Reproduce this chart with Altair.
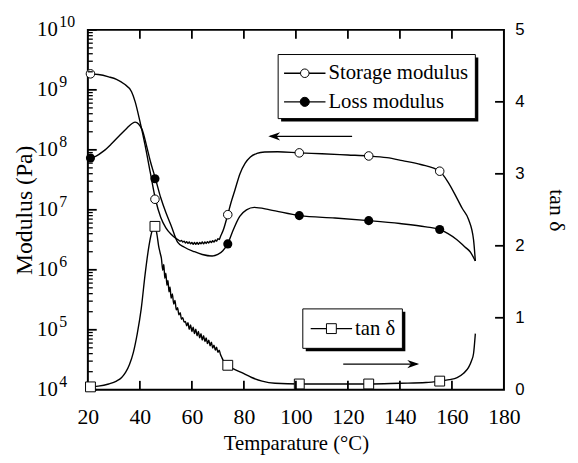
import altair as alt
import pandas as pd

# ---------------- data ----------------
storage_x = [20, 24, 28, 31, 34, 36.8, 38.2, 40, 42, 44, 46, 48, 50, 52, 54,
             55, 55.5, 56, 56.5, 57, 57.5, 58, 58.5, 59, 59.5, 60, 60.5, 61, 61.5,
             62, 62.5, 63, 63.5, 64, 64.5, 65, 65.5, 66, 66.5, 67, 67.5, 68, 68.5,
             69, 69.5, 70, 70.5, 71, 72, 73.8, 75, 76.5, 78.5, 80.5, 82.5, 85, 88,
             93, 101.3, 110, 120, 128, 135, 141, 148, 155.3, 158.5, 161.8, 164,
             166.4, 168.3, 169]
storage_y = [1.85e9, 1.8e9, 1.65e9, 1.5e9, 1.25e9, 9.3e8, 6.3e8, 3.0e8, 1.2e8, 4.2e7,
             1.5e7, 7.5e6, 5.0e6, 3.9e6, 3.3e6,
             3.1e6, 3.0e6, 3.1e6, 2.9e6, 3.0e6, 2.8e6, 2.95e6, 2.75e6, 2.9e6, 2.7e6,
             2.85e6, 2.65e6, 2.85e6, 2.65e6, 2.85e6, 2.65e6, 2.85e6, 2.7e6, 2.9e6,
             2.7e6, 2.9e6, 2.75e6, 2.95e6, 2.8e6, 3.0e6, 2.85e6, 3.05e6, 2.9e6,
             3.15e6, 3.0e6, 3.3e6, 3.2e6, 3.6e6, 4.5e6, 8.3e6, 1.3e7, 2.1e7, 4.0e7,
             6.0e7, 7.6e7, 8.7e7, 9.2e7, 9.3e7, 8.9e7, 8.6e7, 8.2e7, 7.9e7, 7.4e7,
             6.6e7, 5.7e7, 4.4e7, 2.9e7, 1.6e7, 1.05e7, 6.9e6, 3.2e6, 1.4e6]

loss_x = [20, 23, 26, 29, 32, 35, 37, 38.2, 39.5, 41, 42.5, 44, 46, 48, 50, 52,
          54.5, 57, 61, 64, 67.8, 70, 72, 73.8, 75.5, 78.4, 81, 84, 90, 101.5,
          115, 128, 140, 150, 155.3, 158.5, 161.8, 165, 167, 169]
loss_y = [7.3e7, 7.8e7, 9.5e7, 1.25e8, 1.7e8, 2.3e8, 2.75e8, 2.9e8, 2.7e8, 2.1e8,
          1.2e8, 6.5e7, 3.3e7, 1.6e7, 9.0e6, 5.5e6, 2.9e6, 2.4e6, 2.0e6, 1.8e6,
          1.7e6, 1.8e6, 2.1e6, 2.7e6, 4.2e6, 7.8e6, 1.0e7, 1.1e7, 1.0e7, 8.0e6,
          7.3e6, 6.6e6, 5.9e6, 5.2e6, 4.7e6, 4.0e6, 3.2e6, 2.4e6, 2.0e6, 1.4e6]

tan_x = [20, 24, 28, 31, 33, 34.5, 36, 37.5, 39, 40.5, 42, 43.5, 44.8, 45.8, 46.6,
         47.2, 47.8, 48.3, 48.8, 49.2, 49.6, 50.0, 50.4, 50.8, 51.2, 51.6, 52.0,
         52.5, 53.0, 53.5, 54.0, 54.5, 55.0, 55.5, 56.0, 56.5, 57.0, 57.5, 58.0,
         58.5, 59.0, 59.5, 60.0, 60.5, 61.0, 61.5, 62.0, 62.5, 63.0, 63.5, 64.0,
         64.5, 65.0, 65.5, 66.0, 66.5, 67.0, 67.5, 68.0, 68.5, 69.0, 69.5, 70.0,
         70.5, 71.0, 71.5, 72.0, 73.5, 76, 79, 83, 87, 92, 101.5, 115, 128, 140,
         150, 155.3, 159, 162, 164.5, 166.4, 167.5, 168.3, 169]
tan_y = [0.04, 0.05, 0.08, 0.12, 0.17, 0.24, 0.35, 0.52, 0.78, 1.12, 1.6, 2.0, 2.22,
         2.27, 2.15, 2.0, 1.9, 1.82, 1.66, 1.74, 1.55, 1.62, 1.45, 1.52, 1.36, 1.43,
         1.27, 1.33, 1.19, 1.24, 1.11, 1.14, 1.04, 1.07, 0.98, 1.0, 0.94, 0.95,
         0.89, 0.93, 0.84, 0.90, 0.81, 0.87, 0.78, 0.84, 0.75, 0.81, 0.72, 0.78,
         0.69, 0.75, 0.67, 0.72, 0.64, 0.69, 0.61, 0.66, 0.58, 0.62, 0.55, 0.59,
         0.52, 0.55, 0.49, 0.45, 0.41, 0.34, 0.29, 0.24, 0.17, 0.12, 0.09, 0.08,
         0.08, 0.08, 0.09, 0.10, 0.12, 0.14, 0.17, 0.23, 0.31, 0.40, 0.50, 0.78]

marker_x = [21, 45.8, 73.8, 101.3, 128, 155.3]
storage_marks = [1.85e9, 1.5e7, 8.3e6, 8.9e7, 7.9e7, 4.4e7]
loss_marks = [7.3e7, 3.3e7, 2.7e6, 8.0e6, 6.6e6, 4.7e6]
tan_marks = [0.04, 2.27, 0.34, 0.08, 0.08, 0.12]

x_ticks = [20, 40, 60, 80, 100, 120, 140, 160, 180]
x_inner_ticks = [40, 60, 80, 100, 120, 140, 160]
decades = [1e4, 1e5, 1e6, 1e7, 1e8, 1e9, 1e10]
exponents = ["4", "5", "6", "7", "8", "9", "10"]
minor_vals = [m * 10 ** k for k in range(4, 10) for m in range(2, 10)]
tan_ticks = [0, 1, 2, 3, 4, 5]
tan_inner_ticks = [1, 2, 3, 4]

legend_labels = ["Storage modulus", "Loss modulus", "tan δ"]

# ---------------- styling ----------------
W, H = 422, 365
SERIF = "Liberation Serif"
SANS = "Liberation Sans"

xs = alt.Scale(domain=[20, 180], nice=False, zero=False)
ylog = alt.Scale(type="log", domain=[1e4, 1e10], nice=False)
ytan = alt.Scale(domain=[0, 5], nice=False, zero=True)

storage_df = pd.DataFrame({"T": storage_x, "v": storage_y})
loss_df = pd.DataFrame({"T": loss_x, "v": loss_y})
tan_df = pd.DataFrame({"T": tan_x, "v": tan_y})
marks_df = pd.DataFrame({"T": marker_x, "s": storage_marks, "l": loss_marks, "t": tan_marks})
dec_df = pd.DataFrame({"v": decades, "e": exponents})
minor_df = pd.DataFrame({"v": minor_vals})
xt_df = pd.DataFrame({"T": x_inner_ticks})
tt_df = pd.DataFrame({"v": tan_inner_ticks})
one = pd.DataFrame({"k": [0]})

x_axis = alt.Axis(values=x_ticks, title="Temparature (°C)", orient="bottom", tickSize=0,
                  domain=False, grid=False, labelFont=SERIF, labelFontSize=22, labelPadding=17,
                  titleFont=SERIF, titleFontSize=21, titlePadding=6, labelFlush=False,
                  labelColor="black", titleColor="black", titleFontWeight="normal")
y_axis = alt.Axis(values=decades, labelExpr="'10'", title="Modulus (Pa)", orient="left",
                  tickSize=0, domain=False, grid=False, labelFont=SERIF, labelFontSize=21,
                  labelPadding=31, labelBaseline="middle", titleFont=SERIF,
                  titleFontSize=24, titlePadding=0, labelFlush=False,
                  labelColor="black", titleColor="black", titleFontWeight="normal")
t_axis = alt.Axis(values=tan_ticks, title="tan δ", orient="right", tickSize=0,
                  domain=False, grid=False, labelFont=SANS, labelFontSize=17,
                  labelPadding=11, labelBaseline="middle", titleFont=SERIF,
                  titleFontSize=22, titleAngle=90, titlePadding=21, labelFlush=False,
                  labelColor="black", titleColor="black", titleFontWeight="normal")

# identical x encoding on every layer that has an x field, so the axis merges into one
X = alt.X("T:Q", scale=xs, axis=x_axis)

LW = 1.4

storage_line = alt.Chart(storage_df).mark_line(color="black", strokeWidth=LW, interpolate="monotone").encode(
    x=X, y=alt.Y("v:Q", scale=ylog, axis=y_axis))
tan_line = alt.Chart(tan_df).mark_line(color="black", strokeWidth=LW, interpolate="monotone").encode(
    x=X, y=alt.Y("v:Q", scale=ytan, axis=t_axis))
loss_line = alt.Chart(loss_df).mark_line(color="black", strokeWidth=LW, interpolate="monotone").encode(
    x=X, y=alt.Y("v:Q", scale=ylog, axis=None))
storage_pts = alt.Chart(marks_df).mark_point(shape="circle", filled=True, fill="white", stroke="black",
                                             strokeWidth=1, size=75, opacity=1).encode(
    x=X, y=alt.Y("s:Q", scale=ylog, axis=None))
loss_pts = alt.Chart(marks_df).mark_point(shape="circle", filled=True, color="black", size=85,
                                          opacity=1).encode(
    x=X, y=alt.Y("l:Q", scale=ylog, axis=None))
left_major = alt.Chart(dec_df).mark_rule(color="black", strokeWidth=1.8).encode(
    y=alt.Y("v:Q", scale=ylog, axis=None), x=alt.value(0), x2=alt.value(9))
left_minor = alt.Chart(minor_df).mark_rule(color="black", strokeWidth=1.3).encode(
    y=alt.Y("v:Q", scale=ylog, axis=None), x=alt.value(0), x2=alt.value(5))
exp_text = alt.Chart(dec_df).mark_text(font=SERIF, fontSize=16, align="left", baseline="middle",
                                       dy=-8, color="black").encode(
    y=alt.Y("v:Q", scale=ylog, axis=None), x=alt.value(-29), text="e:N")

tan_pts = alt.Chart(marks_df).mark_point(shape="square", filled=True, fill="white", stroke="black",
                                         strokeWidth=1, size=100, opacity=1).encode(
    x=X, y=alt.Y("t:Q", scale=ytan, axis=None))
right_ticks = alt.Chart(tt_df).mark_rule(color="black", strokeWidth=1.8).encode(
    y=alt.Y("v:Q", scale=ytan, axis=None), x=alt.value(W), x2=alt.value(W - 9))
bottom_ticks = alt.Chart(xt_df).mark_rule(color="black", strokeWidth=1.8).encode(
    x=X, y=alt.value(H), y2=alt.value(H - 9))
top_ticks = alt.Chart(xt_df).mark_rule(color="black", strokeWidth=1.8).encode(
    x=X, y=alt.value(0), y2=alt.value(9))


def box(x0, x1, y0, y1):
    shadow = alt.Chart(one).mark_rect(color="black").encode(
        x=alt.value(x0 + 3), x2=alt.value(x1 + 3), y=alt.value(y0 + 3), y2=alt.value(y1 + 3))
    frame = alt.Chart(one).mark_rect(fill="white", stroke="black", strokeWidth=1).encode(
        x=alt.value(x0), x2=alt.value(x1), y=alt.value(y0), y2=alt.value(y1))
    return [shadow, frame]


def entry(x0, y, label, shape, fill, size):
    ln = alt.Chart(one).mark_rule(color="black", strokeWidth=LW).encode(
        x=alt.value(x0), x2=alt.value(x0 + 42), y=alt.value(y))
    pt = alt.Chart(one).mark_point(shape=shape, filled=True, fill=fill, stroke="black",
                                   strokeWidth=1, size=size, opacity=1).encode(
        x=alt.value(x0 + 21), y=alt.value(y))
    tx = alt.Chart(one).mark_text(text=label, font=SERIF, fontSize=21, align="left",
                                  baseline="middle", color="black").encode(
        x=alt.value(x0 + 45), y=alt.value(y))
    return [ln, pt, tx]


legend_layers = []
legend_layers += box(193, 393, 25, 90)
legend_layers += entry(199, 44, legend_labels[0], "circle", "white", 75)
legend_layers += entry(199, 73, legend_labels[1], "circle", "black", 85)
legend_layers += box(218, 319, 283, 323)
legend_layers += entry(226, 303, legend_labels[2], "square", "white", 100)

arrow1 = alt.Chart(one).mark_rule(color="black", strokeWidth=1.2).encode(
    x=alt.value(185), x2=alt.value(268), y=alt.value(108))
head1 = alt.Chart(one).mark_point(shape="M-1,0 L1,-0.7 L0.4,0 L1,0.7 Z", filled=True, color="black",
                                  size=144, opacity=1).encode(x=alt.value(189), y=alt.value(108))
arrow2 = alt.Chart(one).mark_rule(color="black", strokeWidth=1.2).encode(
    x=alt.value(259), x2=alt.value(334), y=alt.value(339))
head2 = alt.Chart(one).mark_point(shape="M1,0 L-1,-0.7 L-0.4,0 L-1,0.7 Z", filled=True, color="black",
                                  size=144, opacity=1).encode(x=alt.value(330), y=alt.value(339))

chart = alt.layer(
    storage_line, tan_line, loss_line, storage_pts, loss_pts, left_major, left_minor, exp_text,
    tan_pts, right_ticks, bottom_ticks, top_ticks, *legend_layers, arrow1, head1, arrow2, head2
).resolve_scale(y="independent").properties(
    width=W, height=H,
    padding={"left": 81, "top": 19, "right": 67, "bottom": 63},
    autosize=alt.AutoSizeParams(type="none"),
).configure_view(stroke="black", strokeWidth=2)

chart.save("out.html", embed_options={"renderer": "svg", "actions": False})
